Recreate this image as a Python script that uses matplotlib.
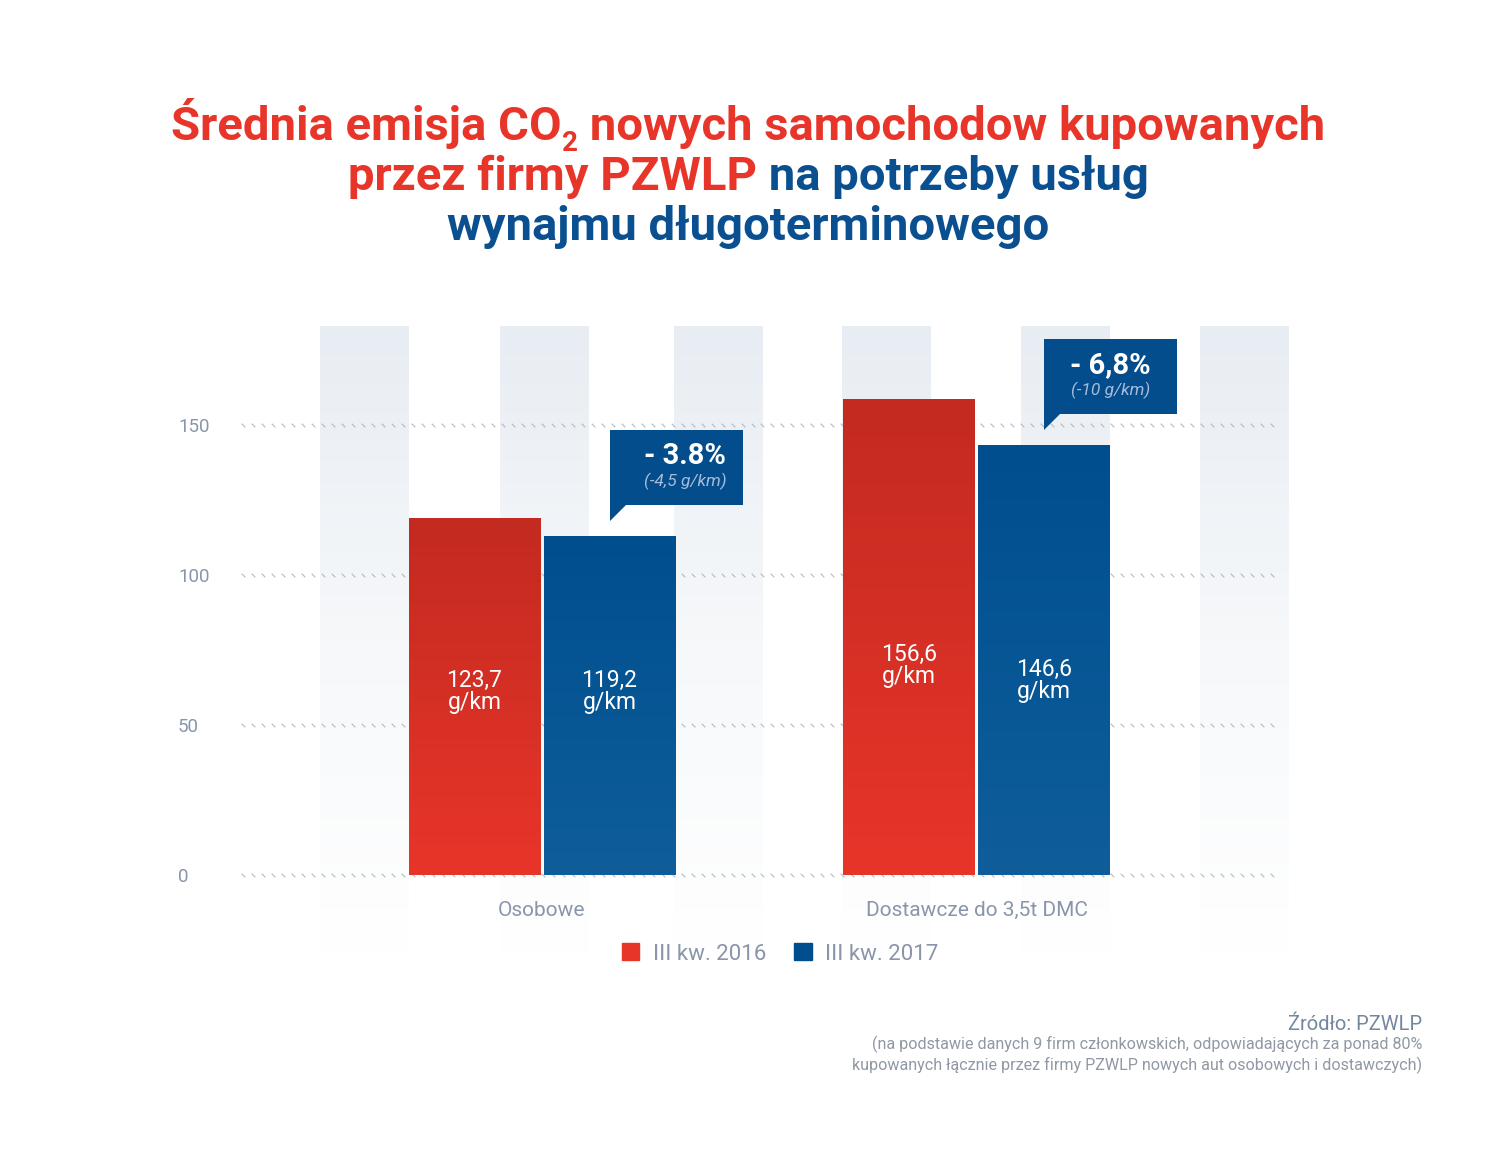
import numpy as np
import matplotlib
matplotlib.use("Agg")
import matplotlib.pyplot as plt
from matplotlib.colors import LinearSegmentedColormap
from matplotlib.patches import Polygon, Patch
from matplotlib.path import Path

# data
categories = ["Osobowe", "Dostawcze do 3,5t DMC"]
series = ["III kw. 2016", "III kw. 2017"]
values_2016 = [119.0, 158.7]   # bar heights as drawn
values_2017 = [113.0, 143.3]
labels_2016 = ["123,7\ng/km", "156,6\ng/km"]
labels_2017 = ["119,2\ng/km", "146,6\ng/km"]
change_pct = ["- 3.8%", "- 6,8%"]
change_abs = ["(-4,5 g/km)", "(-10 g/km)"]
yticks = [0, 50, 100, 150]

RED = "#e8352a"
RED_DARK = "#c32a20"
BLUE = "#0a4f8f"
BLUE_TOP = "#004e8e"
BLUE_BOT = "#0f5e9b"
GREY = "#8a95aa"
FONT = "Roboto"

W, H = 1500, 1176
fig = plt.figure(figsize=(W / 100, H / 100), dpi=100)
fig.patch.set_facecolor("white")

# background (pixel coords) for stripes and title
bg = fig.add_axes([0, 0, 1, 1], zorder=0)
bg.set_xlim(0, W)
bg.set_ylim(H, 0)
bg.axis("off")

grad = np.linspace(0, 1, 256).reshape(-1, 1)
stripe_cmap = LinearSegmentedColormap.from_list("s", ["#e8edf3", "#f6f8fa", "#ffffff"])
for left in [320, 500, 674, 842, 1021, 1200]:
    bg.imshow(grad, extent=[left, left + 89, 955, 326], cmap=stripe_cmap,
              aspect="auto", interpolation="bilinear")
bg.set_xlim(0, W)
bg.set_ylim(H, 0)

# main chart
ax = fig.add_axes([240 / W, 1 - 880 / H, 1035 / W, 580 / H], zorder=1)
ax.patch.set_alpha(0)
x = np.arange(len(categories))
bw = 0.302
off = 0.1555

for s in ax.spines.values():
    s.set_visible(False)

# dotted grid of small slashes
slash = Path([(-1, 1), (1, -1)], [Path.MOVETO, Path.LINETO])
gx = np.linspace(-0.688, 1.68, 104)
for yv in yticks:
    ax.plot(gx, [yv] * len(gx), linestyle="none", marker=slash, markersize=2.6,
            markeredgewidth=0.8, color="#b3b9c2", zorder=1)

red_cmap = LinearSegmentedColormap.from_list("r", [RED, RED_DARK])
blue_cmap = LinearSegmentedColormap.from_list("b", [BLUE_BOT, BLUE_TOP])

b1 = ax.bar(x - off, values_2016, bw, color=RED, zorder=3)
b2 = ax.bar(x + off, values_2017, bw, color=BLUE_TOP, zorder=3)
for bars, cm in [(b1, red_cmap), (b2, blue_cmap)]:
    for p in bars:
        x0, w, h = p.get_x(), p.get_width(), p.get_height()
        im = ax.imshow(grad, extent=[x0, x0 + w, 0, h], cmap=cm, origin="lower",
                       aspect="auto", zorder=3.5, interpolation="bilinear")
        im.set_clip_path(p)

label_y_2016 = [61.3, 69.7]
label_y_2017 = [61.3, 64.7]
for i in range(len(categories)):
    ax.text(x[i] - off, label_y_2016[i], labels_2016[i], ha="center", va="center",
            color="white", fontsize=16.5, family=FONT,
            linespacing=0.95, zorder=5)
    ax.text(x[i] + off, label_y_2017[i], labels_2017[i], ha="center", va="center",
            color="white", fontsize=16.5, family=FONT,
            linespacing=0.95, zorder=5)

# callouts above 2017 bars
for i in range(len(categories)):
    h = values_2017[i]
    cx = x[i] + off
    bw_box = 0.307
    poly = Polygon([(cx, h + 5), (cx, h + 35.3), (cx + bw_box, h + 35.3),
                    (cx + bw_box, h + 10.3), (cx + 0.037, h + 10.3)],
                   closed=True, facecolor="#034d8c", edgecolor="none",
                   zorder=6, clip_on=False)
    ax.add_patch(poly)
    tx = cx + bw_box / 2 + (0.02 if i == 0 else 0)
    ax.text(tx, h + 26.7, change_pct[i], ha="center", va="center", color="white",
            fontsize=21, fontweight="bold", family=FONT, zorder=7)
    ax.text(tx, h + 18.3, change_abs[i], ha="center", va="center", color="#a6bcda",
            fontsize=12.5, style="italic", family=FONT, zorder=7)

ax.set_xlim(-0.695, 1.687)
ax.set_ylim(-5 / 3, 580 / 3 - 5 / 3)
ax.set_yticks(yticks)
ax.set_yticklabels([str(v) for v in yticks], family=FONT, fontsize=13.5, color=GREY)
for lab in ax.get_yticklabels():
    lab.set_horizontalalignment("left")
ax.tick_params(axis="y", length=0, pad=44.6)
ax.set_xticks(x)
ax.set_xticklabels(categories, family=FONT, fontsize=15, color=GREY)
ax.tick_params(axis="x", length=0, pad=15)

handles = [Patch(color=RED), Patch(color=BLUE_TOP)]
fig.legend(handles, series, loc="center", bbox_to_anchor=(780 / W, 1 - 954 / H),
           ncol=2, frameon=False, handlelength=0.8, handleheight=0.8,
           handletextpad=0.6, columnspacing=1.26,
           prop={"family": FONT, "size": 16}, labelcolor=GREY)

# title with mixed colours
renderer = fig.canvas.get_renderer()
title_lines = [
    (140, [("Średnia emisja CO", RED, 34, 0), ("2", RED, 20, 11),
           (" nowych samochodow kupowanych", RED, 34, 0)]),
    (190, [("przez firmy PZWLP", RED, 34, 0), (" na potrzeby usług", BLUE, 34, 0)]),
    (240, [("wynajmu długoterminowego", BLUE, 34, 0)]),
]
for base, pieces in title_lines:
    texts = []
    for s, c, fs, dy in pieces:
        t = bg.text(0, base + dy, s, color=c, fontsize=fs, fontweight="bold",
                    family=FONT, ha="left", va="baseline")
        texts.append(t)
    widths = [t.get_window_extent(renderer).width for t in texts]
    xpos = 748 - sum(widths) / 2
    for t, w in zip(texts, widths):
        t.set_x(xpos)
        xpos += w

# source
bg.text(1422, 1024, "Źródło: PZWLP", ha="right", va="center", color="#7487a0",
        fontsize=14.5, family=FONT)
bg.text(1422, 1055, "(na podstawie danych 9 firm członkowskich, odpowiadających za ponad 80%\n"
        "kupowanych łącznie przez firmy PZWLP nowych aut osobowych i dostawczych)",
        ha="right", va="center", color="#8f98a4", fontsize=11.65, family=FONT,
        multialignment="right", linespacing=1.25)

fig.savefig("out.png", dpi=100)
